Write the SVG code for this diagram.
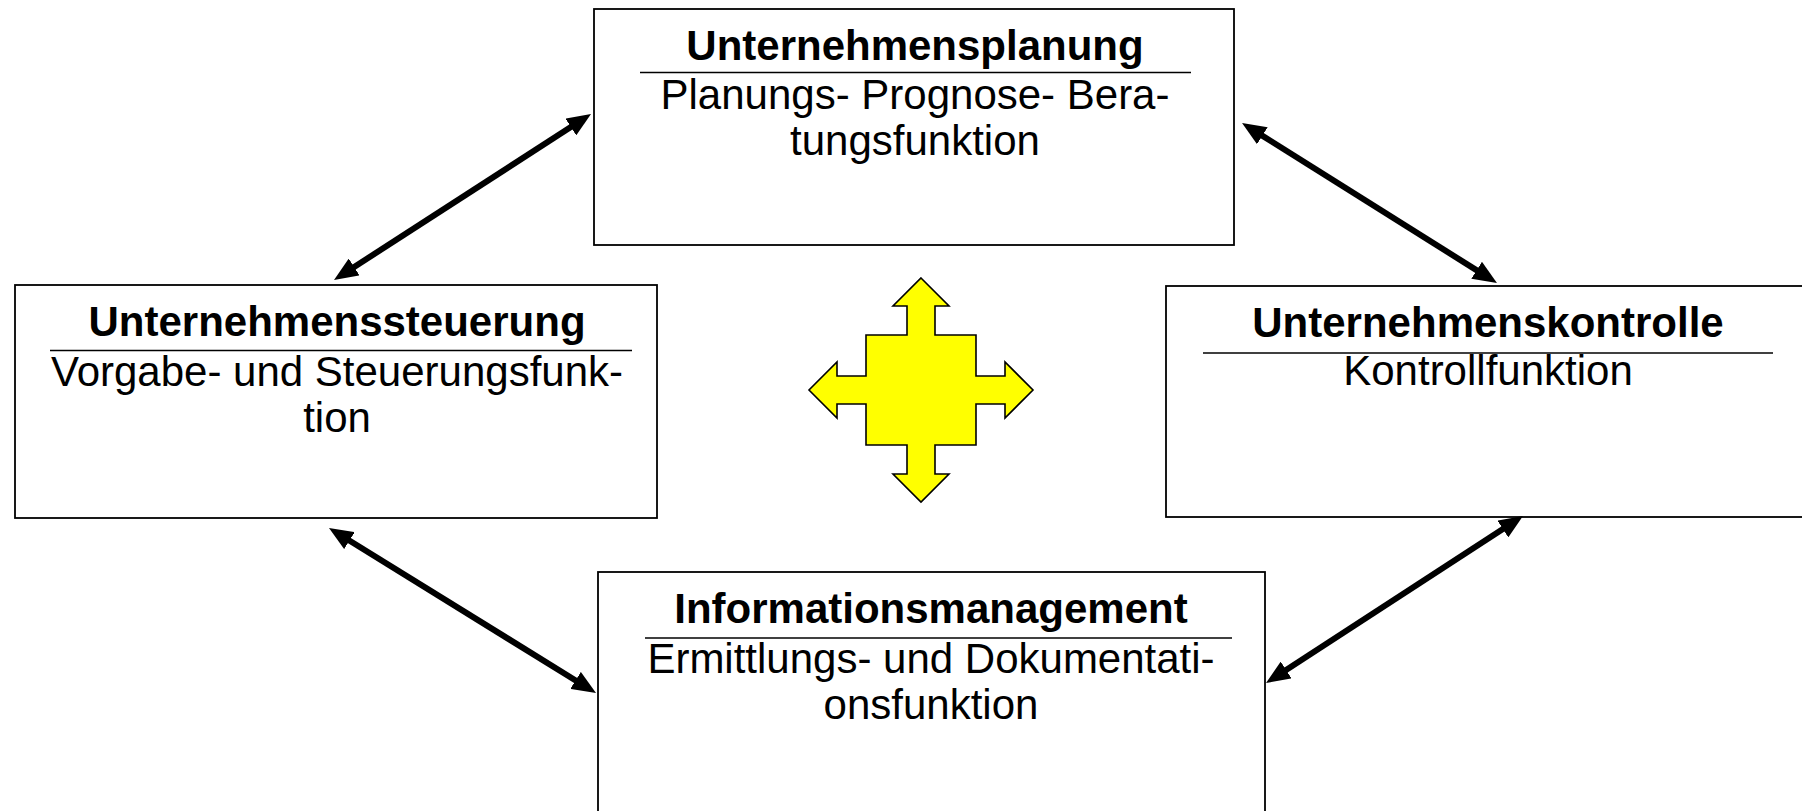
<svg xmlns="http://www.w3.org/2000/svg" width="1802" height="811" viewBox="0 0 1802 811">
<style>
.box{fill:#fff;stroke:#000;stroke-width:1.8}
.sep{stroke:#000;stroke-width:1.6}
.t{font-family:"Liberation Sans",Arial,sans-serif;font-size:42px;font-weight:bold;fill:#000;text-anchor:middle}
.b{font-family:"Liberation Sans",Arial,sans-serif;font-size:42px;fill:#000;text-anchor:middle}
.conn{stroke:#000;stroke-width:6;fill:none;marker-start:url(#ah);marker-end:url(#ah)}
</style>
<defs>
<marker id="ah" markerUnits="userSpaceOnUse" markerWidth="24" markerHeight="20" viewBox="0 0 24 20" refX="12" refY="10" orient="auto-start-reverse">
<path d="M0,0 L24,10 L0,20 z" fill="#000"/>
</marker>
</defs>
<rect width="1802" height="811" fill="#fff"/>
<g id="planung">
<rect class="box" x="594" y="9" width="640" height="236"/>
<text class="t" x="915" y="60">Unternehmensplanung</text>
<line class="sep" x1="640" y1="72.5" x2="1191" y2="72.5"/>
<text class="b" x="915" y="109">Planungs- Prognose- Bera-</text>
<text class="b" x="915" y="155">tungsfunktion</text>
</g>
<g id="steuerung">
<rect class="box" x="15" y="285" width="642" height="233"/>
<text class="t" x="337" y="336">Unternehmenssteuerung</text>
<line class="sep" x1="50" y1="350.5" x2="632" y2="350.5"/>
<text class="b" x="337" y="386">Vorgabe- und Steuerungsfunk-</text>
<text class="b" x="337" y="432">tion</text>
</g>
<g id="kontrolle">
<rect class="box" x="1166" y="286" width="650" height="231"/>
<text class="t" x="1488" y="337">Unternehmenskontrolle</text>
<line class="sep" x1="1203" y1="353" x2="1773" y2="353"/>
<text class="b" x="1488" y="385">Kontrollfunktion</text>
</g>
<g id="information">
<rect class="box" x="598" y="572" width="667" height="250"/>
<text class="t" x="931" y="623">Informationsmanagement</text>
<line class="sep" x1="645" y1="638" x2="1232" y2="638"/>
<text class="b" x="931" y="673">Ermittlungs- und Dokumentati-</text>
<text class="b" x="931" y="719">onsfunktion</text>
</g>
<g id="center-cross">
<polygon points="921,278 949,306 935,306 935,335 976,335 976,376 1005,376 1005,362 1033,390 1005,418 1005,404 976,404 976,445 935,445 935,474 949,474 921,502 893,474 907,474 907,445 866,445 866,404 837,404 837,418 809,390 837,362 837,376 866,376 866,335 907,335 907,306 893,306" fill="#ffff00" stroke="#000" stroke-width="1.6" stroke-linejoin="miter"/>
</g>
<g id="connectors">
<line class="conn" x1="344.1" y1="273.5" x2="580.9" y2="120.5"/>
<line class="conn" x1="1252.2" y1="129.4" x2="1486.8" y2="276.6"/>
<line class="conn" x1="339.2" y1="534.3" x2="585.8" y2="686.7"/>
<line class="conn" x1="1512.9" y1="522.5" x2="1276.1" y2="676.5"/>
</g>
</svg>
